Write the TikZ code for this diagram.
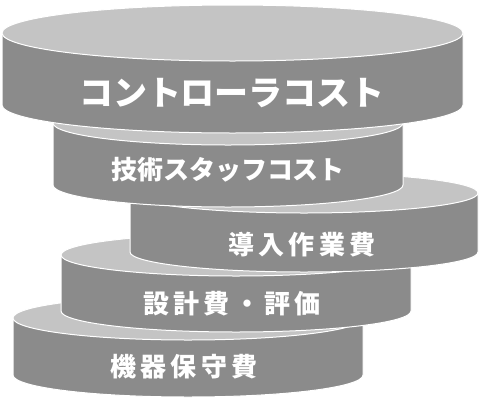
\documentclass[tikz,border=0pt]{standalone}
\usepackage{fontspec}
\newfontfamily\jpfont{Noto Sans CJK JP}
\definecolor{topgray}{HTML}{C4C4C4}
\definecolor{sidegray}{HTML}{8B8B8B}
\newcommand\drawdisk[5]{%
  \fill[sidegray, draw=white, line width=1pt] (#1-#4,-#2) -- (#1-#4,-#3)
    arc[start angle=180,end angle=360,x radius=#4,y radius=#5] -- (#1+#4,-#2) -- cycle;
  \fill[topgray, draw=white, line width=1pt] (#1,-#2) ellipse[x radius=#4, y radius=#5];
}
\tikzset{label/.style={text=white, font=\jpfont\bfseries, inner sep=0pt}}
\begin{document}
\begin{tikzpicture}[x=1pt,y=1pt]
\useasboundingbox (0,0) rectangle (480,-400);
\drawdisk{188}{318}{375}{175}{22}
\drawdisk{236}{255}{311}{175}{21}
\drawdisk{304}{193}{252}{174}{20}
\drawdisk{228}{123}{185}{175}{22}
\drawdisk{232.5}{33}{105}{230.5}{28}
\node[label, font=\jpfont\bfseries\fontsize{34}{40}\selectfont] (t1) at (232,-93) {コントローラコスト};
\node[label, font=\jpfont\bfseries\fontsize{26}{30}\selectfont] (t2) at (228,-170) {技術スタッフコスト};
\node[label, font=\jpfont\bfseries\fontsize{26}{30}\selectfont] (t3) at (302,-245) {導\,入\,作\,業\,費};
\node[label, font=\jpfont\bfseries\fontsize{26}{30}\selectfont] (t4) at (232,-304) {設\,計\,費\,・\,評\,価};
\node[label, font=\jpfont\bfseries\fontsize{26}{30}\selectfont] (t5) at (184,-367) {機\,器\,保\,守\,費};
\end{tikzpicture}
\end{document}
